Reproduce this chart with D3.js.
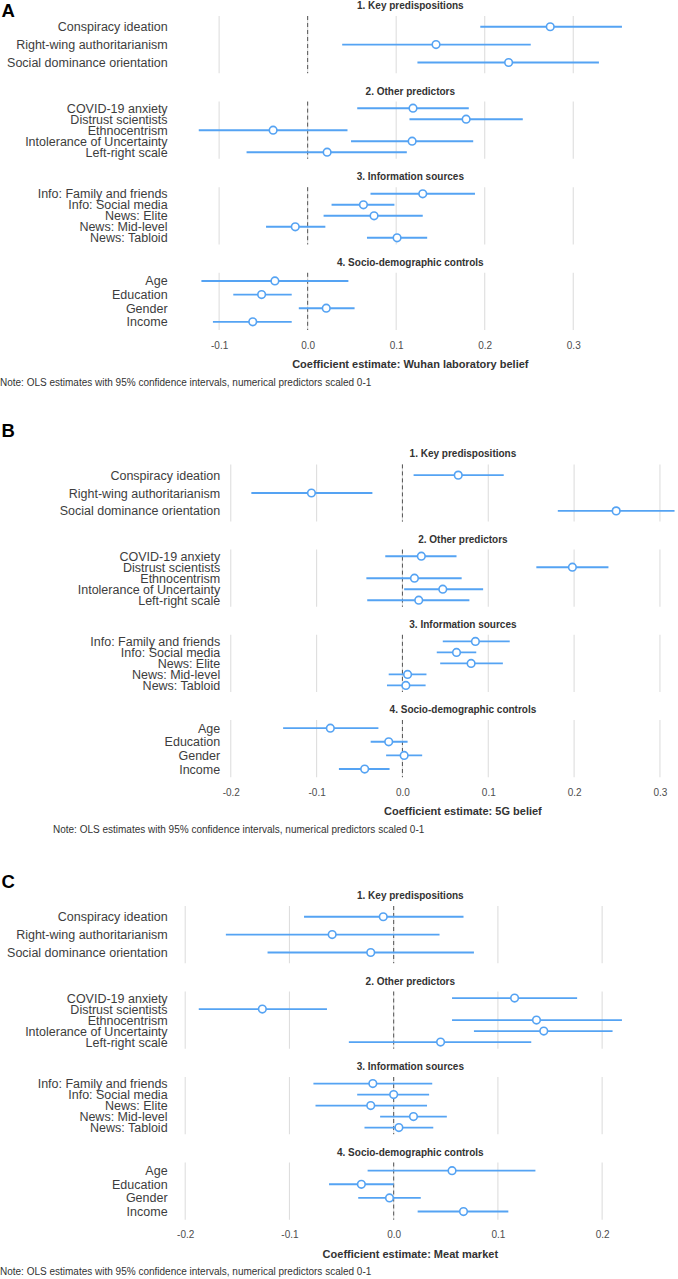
<!DOCTYPE html>
<html>
<head>
<meta charset="utf-8">
<script src="https://cdn.jsdelivr.net/npm/d3@7"></script>
<style>
  html, body { margin: 0; padding: 0; background: #fff; }
  svg { display: block; font-family: "Liberation Sans", Arial, Helvetica, sans-serif; }
</style>
</head>
<body>
<svg id="chart" width="678" height="1279"></svg>
<script>
// ---------------- DATA ----------------
const panelLetters = ["A", "B", "C"];
const groupTitles = ["1. Key predispositions", "2. Other predictors", "3. Information sources", "4. Socio-demographic controls"];
const keyTerms   = ["Conspiracy ideation", "Right-wing authoritarianism", "Social dominance orientation"];
const otherTerms = ["COVID-19 anxiety", "Distrust scientists", "Ethnocentrism", "Intolerance of Uncertainty", "Left-right scale"];
const infoTerms  = ["Info: Family and friends", "Info: Social media", "News: Elite", "News: Mid-level", "News: Tabloid"];
const demoTerms  = ["Age", "Education", "Gender", "Income"];
const axisTitles = ["Coefficient estimate: Wuhan laboratory belief", "Coefficient estimate: 5G belief", "Coefficient estimate: Meat market"];
const noteText = "Note: OLS estimates with 95% confidence intervals, numerical predictors scaled 0-1";

// order: key(3), other(5), info(5), demo(4)
// A: Wuhan laboratory belief
const estA  = [0.274, 0.145, 0.227,   0.119, 0.179, -0.039, 0.118, 0.022,   0.130, 0.063, 0.075, -0.014, 0.101,   -0.037, -0.052, 0.021, -0.062];
const lowA  = [0.195, 0.039, 0.124,   0.056, 0.115, -0.123, 0.049, -0.069,  0.071, 0.027, 0.018, -0.047, 0.067,   -0.120, -0.084, -0.010, -0.107];
const highA = [0.355, 0.252, 0.329,   0.182, 0.243, 0.045, 0.187, 0.112,    0.189, 0.098, 0.130, 0.020, 0.135,    0.046, -0.018, 0.053, -0.018];
// B: 5G belief
const estB  = [0.065, -0.106, 0.249,  0.022, 0.198, 0.014, 0.047, 0.019,    0.085, 0.063, 0.080, 0.006, 0.004,    -0.084, -0.016, 0.002, -0.044];
const lowB  = [0.013, -0.176, 0.181,  -0.020, 0.156, -0.042, 0.002, -0.041, 0.047, 0.040, 0.044, -0.016, -0.018,  -0.139, -0.037, -0.019, -0.074];
const highB = [0.118, -0.035, 0.317,  0.063, 0.240, 0.069, 0.094, 0.078,    0.125, 0.086, 0.117, 0.028, 0.027,    -0.028, 0.006, 0.023, -0.015];
// C: Meat market
const estC  = [-0.010, -0.059, -0.022, 0.116, -0.126, 0.137, 0.144, 0.045,  -0.020, 0.000, -0.022, 0.019, 0.005,  0.056, -0.031, -0.004, 0.067];
const lowC  = [-0.086, -0.161, -0.121, 0.056, -0.187, 0.056, 0.077, -0.043, -0.077, -0.035, -0.075, -0.013, -0.028, -0.025, -0.062, -0.034, 0.023];
const highC = [0.067, 0.044, 0.077,   0.176, -0.064, 0.219, 0.210, 0.132,   0.037, 0.034, 0.032, 0.051, 0.038,    0.136, 0.000, 0.026, 0.110];

// ---------------- LAYOUT ----------------
const groupTerms = [keyTerms, otherTerms, infoTerms, demoTerms];
const charts = [
  { est: estA, lo: lowA, hi: highA, left: 177.6, tops: [16, 101.6, 187.2, 272.8], letterY: 16.7, noteX: 0 },
  { est: estB, lo: lowB, hi: highB, left: 230.2, tops: [464.4, 549.6, 634.8, 720], letterY: 436.7, noteX: 53 },
  { est: estC, lo: lowC, hi: highC, left: 177.6, tops: [906, 991.5, 1077, 1162.5], letterY: 888.3, noteX: 0 }
];
const panelW = 465.5, panelH = 57.2;
const blue = "#55a3f3";
const fmt = d3.formatLocale({ decimal: ".", thousands: ",", grouping: [3], currency: ["", ""], minus: "-" }).format(".1f");

const svg = d3.select("#chart");

charts.forEach((c, ci) => {
  const g = svg.append("g");
  const ext = d3.extent(c.lo.concat(c.hi));
  const pad = (ext[1] - ext[0]) * 0.05;
  const x = d3.scaleLinear().domain([ext[0] - pad, ext[1] + pad]).range([c.left, c.left + panelW]);
  const ticks = x.ticks(5);

  // panel letter
  g.append("text").attr("x", 1.5).attr("y", c.letterY)
    .attr("font-size", 18.5).attr("font-weight", "bold").attr("fill", "#000")
    .text(panelLetters[ci]);

  let idx = 0;
  groupTerms.forEach((terms, gi) => {
    const top = c.tops[gi];
    const y = d3.scalePoint().domain(terms).range([top, top + panelH]).padding(0.6);
    const rows = terms.map((t, j) => ({ term: t, est: c.est[idx + j], lo: c.lo[idx + j], hi: c.hi[idx + j] }));
    idx += terms.length;

    // gridlines
    g.append("g").selectAll("line").data(ticks).join("line")
      .attr("x1", d => x(d)).attr("x2", d => x(d))
      .attr("y1", top).attr("y2", top + panelH)
      .attr("stroke", "#dedede").attr("stroke-width", 1.1);

    // zero reference
    g.append("line").attr("x1", x(0)).attr("x2", x(0)).attr("y1", top).attr("y2", top + panelH)
      .attr("stroke", "#555").attr("stroke-width", 1).attr("stroke-dasharray", "4,3");

    // strip title
    g.append("text").attr("x", c.left + panelW / 2).attr("y", top - 10.5).attr("dy", "0.35em")
      .attr("text-anchor", "middle").attr("font-size", 10).attr("font-weight", "bold").attr("fill", "#333")
      .text(groupTitles[gi]);

    // y axis labels
    const yAxis = d3.axisLeft(y).tickSize(0).tickPadding(10);
    const ya = g.append("g").attr("transform", `translate(${c.left},0)`).call(yAxis);
    ya.select(".domain").remove();
    ya.selectAll("text").attr("font-size", 12.5).attr("fill", "#3d3d3d")
      .attr("font-family", "'Liberation Sans', Arial, sans-serif");

    // intervals
    g.append("g").selectAll("line").data(rows).join("line")
      .attr("x1", d => x(d.lo)).attr("x2", d => x(d.hi))
      .attr("y1", d => y(d.term)).attr("y2", d => y(d.term))
      .attr("stroke", blue).attr("stroke-width", 1.9);

    // points
    g.append("g").selectAll("circle").data(rows).join("circle")
      .attr("cx", d => x(d.est)).attr("cy", d => y(d.term)).attr("r", 3.8)
      .attr("fill", "#fff").attr("stroke", blue).attr("stroke-width", 1.6);
  });

  const bottom = c.tops[3] + panelH;
  // x axis
  const xAxis = d3.axisBottom(x).tickValues(ticks).tickFormat(fmt).tickSize(0).tickPadding(0);
  const xa = g.append("g").attr("transform", `translate(0,${bottom + 15})`).call(xAxis);
  xa.select(".domain").remove();
  xa.selectAll("text").attr("dy", "0.35em").attr("y", 0).attr("font-size", 10).attr("fill", "#4d4d4d")
    .attr("font-family", "'Liberation Sans', Arial, sans-serif");

  // axis title
  g.append("text").attr("x", c.left + panelW / 2).attr("y", bottom + 34).attr("dy", "0.35em")
    .attr("text-anchor", "middle").attr("font-size", 11).attr("font-weight", "bold").attr("fill", "#333")
    .text(axisTitles[ci]);

  // note
  g.append("text").attr("x", c.noteX).attr("y", bottom + 52).attr("dy", "0.35em")
    .attr("font-size", 10).attr("fill", "#333")
    .text(noteText);
});
</script>
</body>
</html>
